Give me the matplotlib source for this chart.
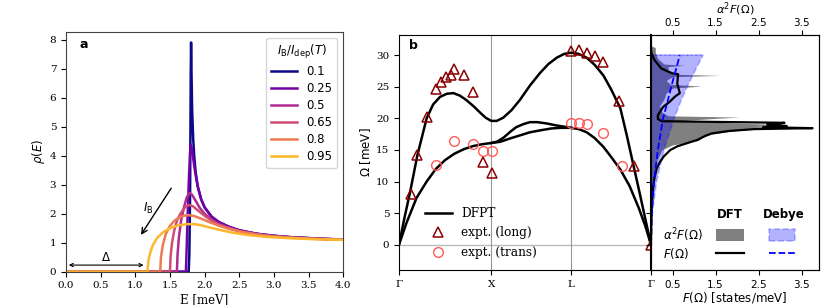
import matplotlib.pyplot as plt
import numpy as np
from matplotlib.patches import Rectangle
from matplotlib.lines import Line2D

# ---- panel a : rho(E) for several I_B/I_dep ----
ratio_labels = ['0.1', '0.25', '0.5', '0.65', '0.8', '0.95']
cmap_pos = [0.0, 0.22, 0.4, 0.52, 0.67, 0.84]

E_01 = [0, 1.77, 1.78, 1.79, 1.795, 1.80, 1.805, 1.81, 1.82, 1.835, 1.85, 1.87, 1.9, 1.95, 2.0,
        2.1, 2.2, 2.35, 2.5, 2.75, 3.0, 3.25, 3.5, 3.75, 4.0]
rho_01 = [0, 0, 0.6, 2.5, 4.5, 6.8, 7.9, 7.0, 5.6, 4.6, 4.0, 3.45, 2.95, 2.5, 2.22,
          1.9, 1.72, 1.55, 1.43, 1.31, 1.24, 1.19, 1.16, 1.13, 1.11]

E_025 = [0, 1.73, 1.74, 1.75, 1.76, 1.775, 1.79, 1.80, 1.81, 1.83, 1.85, 1.87, 1.9, 1.95, 2.0,
         2.1, 2.2, 2.35, 2.5, 2.75, 3.0, 3.25, 3.5, 3.75, 4.0]
rho_025 = [0, 0, 0.7, 1.5, 2.3, 3.3, 4.1, 4.37, 4.3, 4.0, 3.65, 3.35, 2.95, 2.5, 2.22,
           1.9, 1.72, 1.55, 1.43, 1.31, 1.24, 1.19, 1.16, 1.13, 1.11]

E_05 = [0, 1.60, 1.61, 1.63, 1.66, 1.70, 1.74, 1.78, 1.82, 1.87, 1.93, 2.0, 2.1, 2.2, 2.35,
        2.5, 2.75, 3.0, 3.25, 3.5, 3.75, 4.0]
rho_05 = [0, 0, 0.6, 1.2, 1.75, 2.2, 2.55, 2.72, 2.65, 2.45, 2.2, 2.0, 1.8, 1.65, 1.52,
          1.41, 1.3, 1.23, 1.18, 1.15, 1.13, 1.11]

E_065 = [0, 1.50, 1.51, 1.53, 1.56, 1.60, 1.65, 1.71, 1.77, 1.83, 1.9, 2.0, 2.1, 2.2, 2.35,
         2.5, 2.75, 3.0, 3.25, 3.5, 3.75, 4.0]
rho_065 = [0, 0, 0.55, 1.0, 1.4, 1.75, 2.0, 2.2, 2.3, 2.26, 2.12, 1.93, 1.76, 1.63, 1.5,
           1.4, 1.29, 1.22, 1.18, 1.15, 1.12, 1.11]

E_08 = [0, 1.36, 1.37, 1.40, 1.44, 1.50, 1.57, 1.65, 1.72, 1.77, 1.85, 1.95, 2.05, 2.2, 2.35,
        2.5, 2.75, 3.0, 3.25, 3.5, 3.75, 4.0]
rho_08 = [0, 0, 0.5, 0.95, 1.3, 1.58, 1.77, 1.89, 1.94, 1.95, 1.92, 1.83, 1.73, 1.59, 1.48,
          1.39, 1.28, 1.21, 1.17, 1.14, 1.12, 1.10]

E_095 = [0, 1.175, 1.19, 1.213, 1.25, 1.31, 1.40, 1.50, 1.62, 1.74, 1.85, 1.935, 2.05, 2.22,
         2.4, 2.61, 2.9, 3.28, 3.6, 4.0]
rho_095 = [0, 0, 0.4, 0.63, 0.9, 1.15, 1.36, 1.50, 1.6, 1.64, 1.64, 1.61, 1.54, 1.44,
           1.35, 1.27, 1.2, 1.15, 1.12, 1.10]

curves_E = [E_01, E_025, E_05, E_065, E_08, E_095]
curves_rho = [rho_01, rho_025, rho_05, rho_065, rho_08, rho_095]

# ---- panel b : phonon dispersion ----
k_ticks = [0, 1, 1.866, 2.732]
k_labels = ['Γ', 'X', 'L', 'Γ']

k_up = [0, 0.06, 0.12, 0.2, 0.3, 0.37, 0.445, 0.52, 0.59, 0.66, 0.73, 0.81, 0.88, 0.94, 1.0, 1.06,
        1.13, 1.22, 1.31, 1.42, 1.53, 1.62, 1.71, 1.79, 1.866, 1.95, 2.035, 2.12, 2.216, 2.3,
        2.4, 2.47, 2.54, 2.6, 2.66, 2.732]
w_up = [0, 4.3, 8.3, 14.2, 20.0, 22.2, 23.4, 23.9, 24.0, 23.6, 22.9, 21.9, 20.9, 20.1, 19.6, 19.6,
        20.1, 21.3, 22.9, 25.2, 27.2, 28.6, 29.6, 30.2, 30.4, 30.2, 29.6, 28.5, 26.8, 24.6,
        21.6, 17.3, 12.7, 8.8, 4.8, 0]

k_tr = [0, 0.08, 0.19, 0.3, 0.4, 0.5, 0.6, 0.7, 0.8, 0.9, 1.0, 1.1, 1.2, 1.31, 1.42, 1.53, 1.65,
        1.75, 1.866, 1.95, 2.035, 2.12, 2.216, 2.3, 2.4, 2.5, 2.6, 2.67, 2.732]
w_tr = [0, 3.4, 7.4, 10.0, 12.0, 13.4, 14.4, 15.1, 15.6, 15.9, 16.1, 16.3, 16.8, 17.3, 17.8, 18.1,
        18.4, 18.5, 18.5, 18.3, 17.8, 16.9, 15.5, 13.9, 11.9, 9.3, 5.8, 3.0, 0]

k_tr2 = [1.0, 1.06, 1.13, 1.2, 1.27, 1.35, 1.42, 1.5, 1.6, 1.7, 1.866]
w_tr2 = [16.1, 16.3, 16.9, 17.8, 18.6, 19.1, 19.4, 19.4, 19.2, 18.9, 18.5]

k_long = [0.127, 0.199, 0.30, 0.40, 0.46, 0.51, 0.56, 0.60, 0.705, 0.806, 0.908, 1.005,
          1.866, 1.956, 2.04, 2.13, 2.216, 2.38, 2.55, 2.732]
w_long = [8.1, 14.2, 20.2, 24.6, 25.8, 26.5, 26.8, 27.8, 26.8, 24.1, 13.1, 11.3,
          30.6, 30.8, 30.4, 29.9, 29.0, 22.7, 12.4, 0.0]

k_trans = [0.40, 0.60, 0.80, 0.908, 1.005, 1.866, 1.956, 2.04, 2.216, 2.42]
w_trans = [12.6, 16.4, 15.9, 14.8, 14.8, 19.3, 19.3, 19.1, 17.7, 12.5]

# ---- panel c : alpha^2F and F ----
w_a2F = [0, 5, 10, 13, 15, 15.8, 16.3, 16.5, 17.0, 17.5, 18.0, 18.4, 18.55, 18.7, 19.0, 19.3,
         19.6, 20.0, 20.2, 20.4, 21, 22, 23, 24, 24.8, 25.1, 25.4, 26, 26.6, 26.8, 27.0, 27.6,
         28.2, 28.4, 28.6, 29.5, 30.5, 31.2, 31.5]
a2F_dft = [0, 0.02, 0.06, 0.12, 0.25, 0.5, 0.95, 1.1, 1.2, 1.4, 1.9, 2.6, 3.8, 2.4, 3.1, 1.8,
           0.6, 1.5, 2.05, 0.4, 0.25, 0.2, 0.3, 0.35, 0.5, 1.17, 0.45, 0.35, 0.5, 1.6, 0.5, 0.4,
           0.4, 0.78, 0.3, 0.15, 0.1, 0.1, 0]

w_F = [0, 3, 5, 7, 9, 10.5, 12, 13, 14, 15, 15.6, 16.1, 16.6, 17.2, 17.6, 18.0, 18.3, 18.45,
       18.6, 18.8, 19.0, 19.3, 19.55, 19.9, 20.5, 21.8, 22.6, 23.4, 24.0, 25.5, 27.0, 27.1,
       27.4, 27.9, 29.2, 30.3, 31.0]
F_dft = [0, 0.005, 0.01, 0.025, 0.05, 0.08, 0.13, 0.2, 0.3, 0.45, 0.62, 0.85, 1.08, 1.25, 1.4,
         1.8, 2.4, 3.75, 2.6, 3.15, 2.7, 3.1, 0.25, 0.16, 0.16, 0.28, 0.43, 0.55, 0.67, 0.61,
         0.63, 0.51, 0.40, 0.24, 0.085, 0.01, 0]

w_deb = [0, 5, 10, 15, 20, 22.5, 25, 27.5, 30]
a2F_deb = [0, 0.034, 0.13, 0.3, 0.54, 0.68, 0.84, 1.02, 1.21]
F_deb = [0, 0.02, 0.07, 0.16, 0.28, 0.38, 0.47, 0.57, 0.67]

serif = 'DejaVu Serif'

fig = plt.figure(figsize=(8.3, 3.05), dpi=100)
ax_a = fig.add_axes([0.0795, 0.109, 0.334, 0.786])
ax_b = fig.add_axes([0.4807, 0.1148, 0.3036, 0.7705])
ax_c = fig.add_axes([0.7843, 0.1148, 0.2024, 0.7705])

# panel a
cmap = plt.get_cmap('plasma')
for E, rho, lab, c in zip(curves_E, curves_rho, ratio_labels, cmap_pos):
    ax_a.plot(E, rho, color=cmap(c), lw=1.8, label=lab)
ax_a.set_xlim(0, 4)
ax_a.set_ylim(0, 8.26)
ax_a.set_xticks(np.arange(0, 4.01, 0.5))
ax_a.set_yticks(range(0, 9))
for t in ax_a.get_xticklabels() + ax_a.get_yticklabels():
    t.set_family(serif)
ax_a.tick_params(labelsize=7.5)
ax_a.set_xlabel('E [meV]', family=serif, fontsize=8.5, labelpad=2)
ax_a.set_ylabel(r'$\rho(E)$', fontsize=8.5, labelpad=2)
ax_a.text(0.05, 0.975, 'a', transform=ax_a.transAxes, fontsize=9, fontweight='bold', va='top')
leg = ax_a.legend(title=r'$I_\mathrm{B}/I_\mathrm{dep}(T)$', fontsize=8.5, title_fontsize=8.5,
                  loc='upper right', handlelength=2.2, labelspacing=0.35)
ax_a.annotate('', xy=(1.06, 1.19), xytext=(1.54, 2.96),
              arrowprops=dict(arrowstyle='->', color='black', lw=1))
ax_a.text(1.18, 2.19, r'$I_\mathrm{B}$', fontsize=8.5, ha='center', va='center')
ax_a.annotate('', xy=(0.0, 0.23), xytext=(1.16, 0.23),
              arrowprops=dict(arrowstyle='<->', color='black', lw=0.8, mutation_scale=6))
ax_a.text(0.58, 0.48, r'$\Delta$', fontsize=8.5, ha='center', va='center')
for s in ax_a.spines.values():
    s.set_color('#444444')

# panel b
ax_b.axhline(0, color='#bbbbbb', lw=1, zorder=0)
for kk in k_ticks[1:3]:
    ax_b.axvline(kk, color='#999999', lw=0.8, zorder=0)
ax_b.plot(k_up, w_up, color='black', lw=1.8, label='DFPT')
ax_b.plot(k_tr, w_tr, color='black', lw=1.8)
ax_b.plot(k_tr2, w_tr2, color='black', lw=1.8)
ax_b.plot(k_long, w_long, ls='none', marker='^', ms=7, mfc='none', mec='darkred', mew=1.1,
          label='expt. (long)')
ax_b.plot(k_trans, w_trans, ls='none', marker='o', ms=7, mfc='none', mec='#ff5a5a', mew=1.0,
          label='expt. (trans)')
ax_b.set_xlim(0, 2.732)
ax_b.set_ylim(-4, 33.2)
ax_b.set_xticks(k_ticks)
ax_b.set_xticklabels(k_labels)
ax_b.set_yticks(range(0, 31, 5))
for t in ax_b.get_xticklabels() + ax_b.get_yticklabels():
    t.set_family(serif)
ax_b.tick_params(labelsize=7.5)
ax_b.set_ylabel(r'$\Omega$ [meV]', fontsize=8.5, labelpad=2)
ax_b.text(0.04, 0.985, 'b', transform=ax_b.transAxes, fontsize=9, fontweight='bold', va='top')
ax_b.spines['right'].set_visible(False)
ax_b.legend(loc='lower left', frameon=False, prop={'family': serif, 'size': 8.7},
            bbox_to_anchor=(0.06, 0.0), handlelength=2.2, labelspacing=0.55)

# panel c
ax_c.fill_betweenx(w_a2F, 0, a2F_dft, color='#808080', lw=0)
ax_c.fill_betweenx(w_deb, 0, a2F_deb, facecolor=(0, 0, 1, 0.3), edgecolor=(0, 0, 1, 0.25),
                   ls='--', lw=1.2)
ax_c.plot([0, a2F_deb[-1]], [w_deb[-1], w_deb[-1]], color=(0, 0, 1, 0.25), ls='--', lw=1.2)
ax_c.plot(F_dft, w_F, color='black', lw=1.6)
ax_c.plot(F_deb, w_deb, color='blue', ls='--', lw=1.3)
ax_c.set_xlim(0, 3.9)
ax_c.set_ylim(-4, 33.2)
ax_c.set_yticks(range(0, 31, 5))
ax_c.set_yticklabels([])
ax_c.set_xticks([0.5, 1.5, 2.5, 3.5])
ax_c.tick_params(labelsize=7.5)
ax_c.set_xlabel(r'$F(\Omega)$ [states/meV]', fontsize=8.5, labelpad=0)
ax_c.spines['left'].set_linewidth(1.5)
ax_top = ax_c.twiny()
ax_top.set_xlim(0, 3.9)
ax_top.set_xticks([0.5, 1.5, 2.5, 3.5])
ax_top.tick_params(labelsize=7.5, pad=1.5)
ax_top.set_xlabel(r'$\alpha^2F(\Omega)$', fontsize=8.2, labelpad=0)
ax_top.xaxis.set_label_coords(0.5, 1.095)

tr = ax_c.transAxes
ax_c.text(0.47, 0.234, 'DFT', transform=tr, fontsize=8.5, fontweight='bold', ha='center', va='center')
ax_c.text(0.79, 0.234, 'Debye', transform=tr, fontsize=8.5, fontweight='bold', ha='center', va='center')
ax_c.text(0.07, 0.149, r'$\alpha^2F(\Omega)$', transform=tr, fontsize=8.5, va='center')
ax_c.text(0.07, 0.072, r'$F(\Omega)$', transform=tr, fontsize=8.5, va='center')
ax_c.add_patch(Rectangle((0.39, 0.123), 0.165, 0.051, transform=tr, facecolor='#808080', lw=0))
ax_c.add_patch(Rectangle((0.70, 0.123), 0.157, 0.051, transform=tr, facecolor=(0, 0, 1, 0.3),
                         edgecolor=(0, 0, 1, 0.25), ls='--', lw=1.2))
ax_c.add_line(Line2D([0.39, 0.555], [0.072, 0.072], transform=tr, color='black', lw=1.6))
ax_c.add_line(Line2D([0.70, 0.857], [0.072, 0.072], transform=tr, color='blue', ls='--', lw=1.3))

fig.savefig('out.png', dpi=100)
